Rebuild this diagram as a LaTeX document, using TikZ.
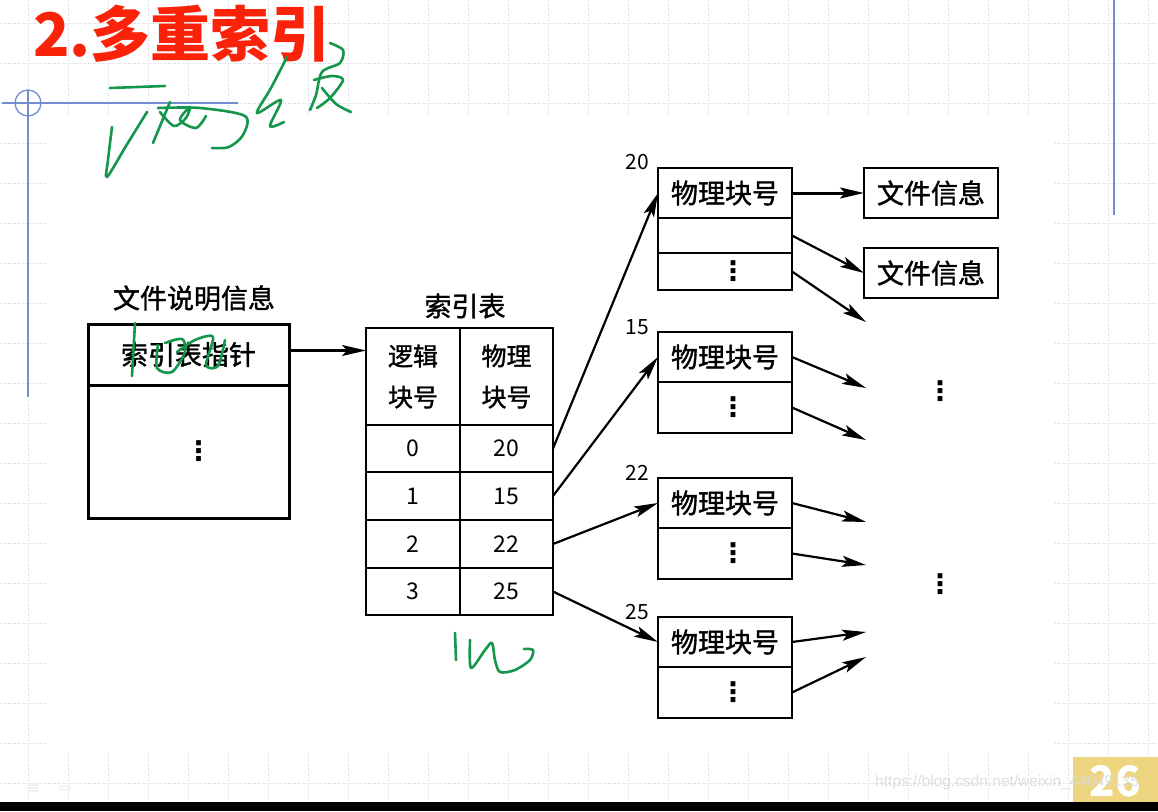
\documentclass[tikz,border=0pt]{standalone}
\usepackage{fontspec}
\newfontfamily\cjk{Noto Sans CJK SC}
\newfontfamily\cjkb[FakeBold=1.3]{Noto Sans CJK SC}
\newfontfamily\symf{DejaVu Sans}
\newfontfamily\wmfont{Liberation Sans}
\usetikzlibrary{arrows.meta,positioning}

\definecolor{titlered}{RGB}{250,35,10}
\definecolor{handgreen}{RGB}{20,150,75}
\definecolor{guideblue}{RGB}{115,140,210}
\definecolor{pageyellow}{RGB}{238,214,128}
\definecolor{gridgray}{RGB}{205,212,222}

\tikzset{
  txt/.style={font=\cjkb\fontsize{27}{30}\selectfont, inner sep=0pt},
  cell/.style={draw, line width=2.8pt, anchor=north west, inner sep=0pt, outer sep=0pt, align=center,
    font=\cjkb\fontsize{27}{41}\selectfont},
  numcell/.style={font=\cjk\fontsize{23}{26}\selectfont},
  numtxt/.style={font=\cjk\fontsize{21}{24}\selectfont, inner sep=0pt},
  dots/.style={font=\symf\bfseries\fontsize{27}{27}\selectfont, inner sep=0pt},
  link/.style={line width=2.2pt, -{Stealth[length=24pt,width=11pt,inset=5pt]}},
  hand/.style={draw=handgreen, line width=2.6pt, line cap=round, line join=round},
  guide/.style={draw=guideblue, line width=1.3pt},
  gridline/.style={draw=gridgray, line width=0.8pt, dash pattern=on 1pt off 1.5pt},
}

\begin{document}
\begin{tikzpicture}[x=1pt, y=-1pt]
  \useasboundingbox (0,0) rectangle (1158,811);
  \fill[white] (0,0) rectangle (1158,811);

  % slide grid, covered where the figure sits
  \foreach \gx in {28,68,...,1148} \draw[gridline] (\gx,0) -- (\gx,800);
  \foreach \gy in {23,63,...,783} \draw[gridline] (0,\gy) -- (1158,\gy);
  \fill[white] (47,117) rectangle (1055,752);

  % guides
  \draw[guide] (28,90) -- (28,397);
  \draw[guide] (2,103) -- (238,103);
  \draw[guide] (28,103) circle (13pt);
  \draw[guide] (1114,0) -- (1114,215);

  % title
  \node[anchor=west, inner sep=0pt, text=titlered, font=\cjk\bfseries\fontsize{60}{64}\selectfont] (title) at (33,34) {2.多重索引};

  % file description block
  \node[txt] (fdlabel) at (194,298) {文件说明信息};
  \node[cell, line width=3pt, minimum width=201pt, minimum height=61pt] (ptr) at (88,324) {索引表指针};
  \node[cell, line width=3pt, minimum width=201pt, minimum height=133pt] (fdrest) at (88,385) {};
  \node[dots] (fddots) at ([xshift=10pt]fdrest.center) {⋮};

  % index table
  \node[txt] (idxlabel) at (465,306) {索引表};
  \node[cell, minimum width=94pt, minimum height=97pt, font=\cjkb\fontsize{25}{41}\selectfont] (hdl) at (366,328) {逻辑\\块号};
  \node[cell, minimum width=93pt, minimum height=97pt, font=\cjkb\fontsize{25}{41}\selectfont] (hdr) at (460,328) {物理\\块号};
  \foreach \i/\pb/\ry/\rh in {0/20/425/47, 1/15/472/48, 2/22/520/48, 3/25/568/47} {
    \node[cell, numcell, minimum width=94pt, minimum height=\rh pt] (tl\i) at (366,\ry) {\i};
    \node[cell, numcell, minimum width=93pt, minimum height=\rh pt] (tr\i) at (460,\ry) {\pb};
  }

  % physical blocks
  \node[cell, minimum width=134pt, minimum height=50pt] (b20-a) at (658,168) {物理块号};
  \node[cell, minimum width=134pt, minimum height=35pt] (b20-b) at (b20-a.south west) {};
  \node[cell, minimum width=134pt, minimum height=37pt] (b20-c) at (b20-b.south west) {};
  \node[dots] (d20) at ([xshift=8pt]b20-c.center) {⋮};
  \node[numtxt] (n20) at ([xshift=-21pt,yshift=6pt]b20-a.north west) {20};
  \foreach \blk/\ty in {15/332, 22/478, 25/617} {
    \node[cell, minimum width=134pt, minimum height=50pt] (b\blk-a) at (658,\ty) {物理块号};
    \node[cell, minimum width=134pt, minimum height=51pt] (b\blk-b) at (b\blk-a.south west) {};
    \node[dots] (d\blk) at ([xshift=8pt]b\blk-b.center) {⋮};
    \node[numtxt] (n\blk) at ([xshift=-21pt,yshift=5pt]b\blk-a.north west) {\blk};
  }

  % file information
  \node[cell, minimum width=134pt, minimum height=50pt] (if1) at (864,168) {文件信息};
  \node[cell, minimum width=134pt, minimum height=50pt] (if2) at (864,248) {文件信息};
  \node[dots] (more1) at (940,391) {⋮};
  \node[dots] (more2) at (940,584) {⋮};

  % free arrow ends
  \coordinate (e20c) at (866,322);
  \coordinate (e15a) at (866,388);
  \coordinate (e15b) at (866,440);
  \coordinate (e22a) at (866,522);
  \coordinate (e22b) at (866,565);
  \coordinate (e25a) at (866,632);
  \coordinate (e25b) at (866,657);

  % connectors
  \coordinate (ptrout) at ([yshift=4pt]ptr.east);
  \draw[link] (ptrout) -- (ptrout -| hdl.west);
  \foreach \i/\blk in {0/20, 1/15, 2/22, 3/25} \draw[link] (tr\i.east) -- (b\blk-a.west);
  \draw[link, line width=3pt] (b20-a.east) -- (if1.west);
  \draw[link] (b20-b.east) -- (if2.west);
  \draw[link] (b20-c.east) -- (e20c);
  \foreach \blk in {15,22,25} {
    \draw[link] (b\blk-a.east) -- (e\blk a);
    \draw[link] (b\blk-b.east) -- (e\blk b);
  }

  % handwritten notes
  \draw[hand] (110,88) -- (165,86);
  \draw[hand] plot[smooth] coordinates {(112,127) (108,160) (107,177) (126,146) (147,112)};
  \draw[hand] (170,102) -- (153,143);
  \draw[hand] plot[smooth] coordinates {(160,112) (174,126) (186,118) (190,107) (180,120) (196,128) (206,116)};
  \draw[hand] plot[smooth] coordinates {(158,108) (200,108) (245,116) (243,135) (229,147) (212,148)};
  \draw[hand] plot[smooth] coordinates {(287,57) (271,88) (257,113) (281,100) (270,126) (284,122)};
  \draw[hand] plot[smooth] coordinates {(330,43) (343,50) (340,63) (322,72) (316,95) (310,110)};
  \draw[hand] plot[smooth] coordinates {(314,80) (332,76) (343,80) (330,98) (317,108)};
  \draw[hand] plot[smooth] coordinates {(322,88) (336,104) (351,112)};
  \draw[hand] (135,323) -- (132,376);
  \draw[hand] plot[smooth] coordinates {(158,345) (157,368) (172,372) (185,352) (182,339) (165,343)};
  \draw[hand] plot[smooth] coordinates {(177,352) (195,340) (213,337) (206,365) (218,366) (225,340)};
  \draw[hand] (455,633) -- (456,660);
  \draw[hand] plot[smooth] coordinates {(470,640) (471,668) (485,650) (492,643) (495,660) (500,672) (515,670) (530,660) (533,650) (524,649)};

  % footer
  \node[text=gray!18, font=\symf\fontsize{16}{16}\selectfont] (navlist) at (33,789) {≡};
  \node[text=gray!18, font=\symf\fontsize{16}{16}\selectfont] (navnext) at (66,789) {⇨};
  \fill[pageyellow] (1073,757) rectangle (1158,802);
  \node[text=white, font=\cjk\bfseries\fontsize{42}{42}\selectfont, inner sep=0pt] (pgno) at (1115,781) {26};
  \node[anchor=west, inner sep=0pt, text=gray!30, opacity=0.85, font=\wmfont\fontsize{15.5}{17}\selectfont] (wmark) at (875,782) {https://blog.csdn.net/weixin\_44049135};
  \fill[black] (0,802) rectangle (1158,811);
\end{tikzpicture}
\end{document}
